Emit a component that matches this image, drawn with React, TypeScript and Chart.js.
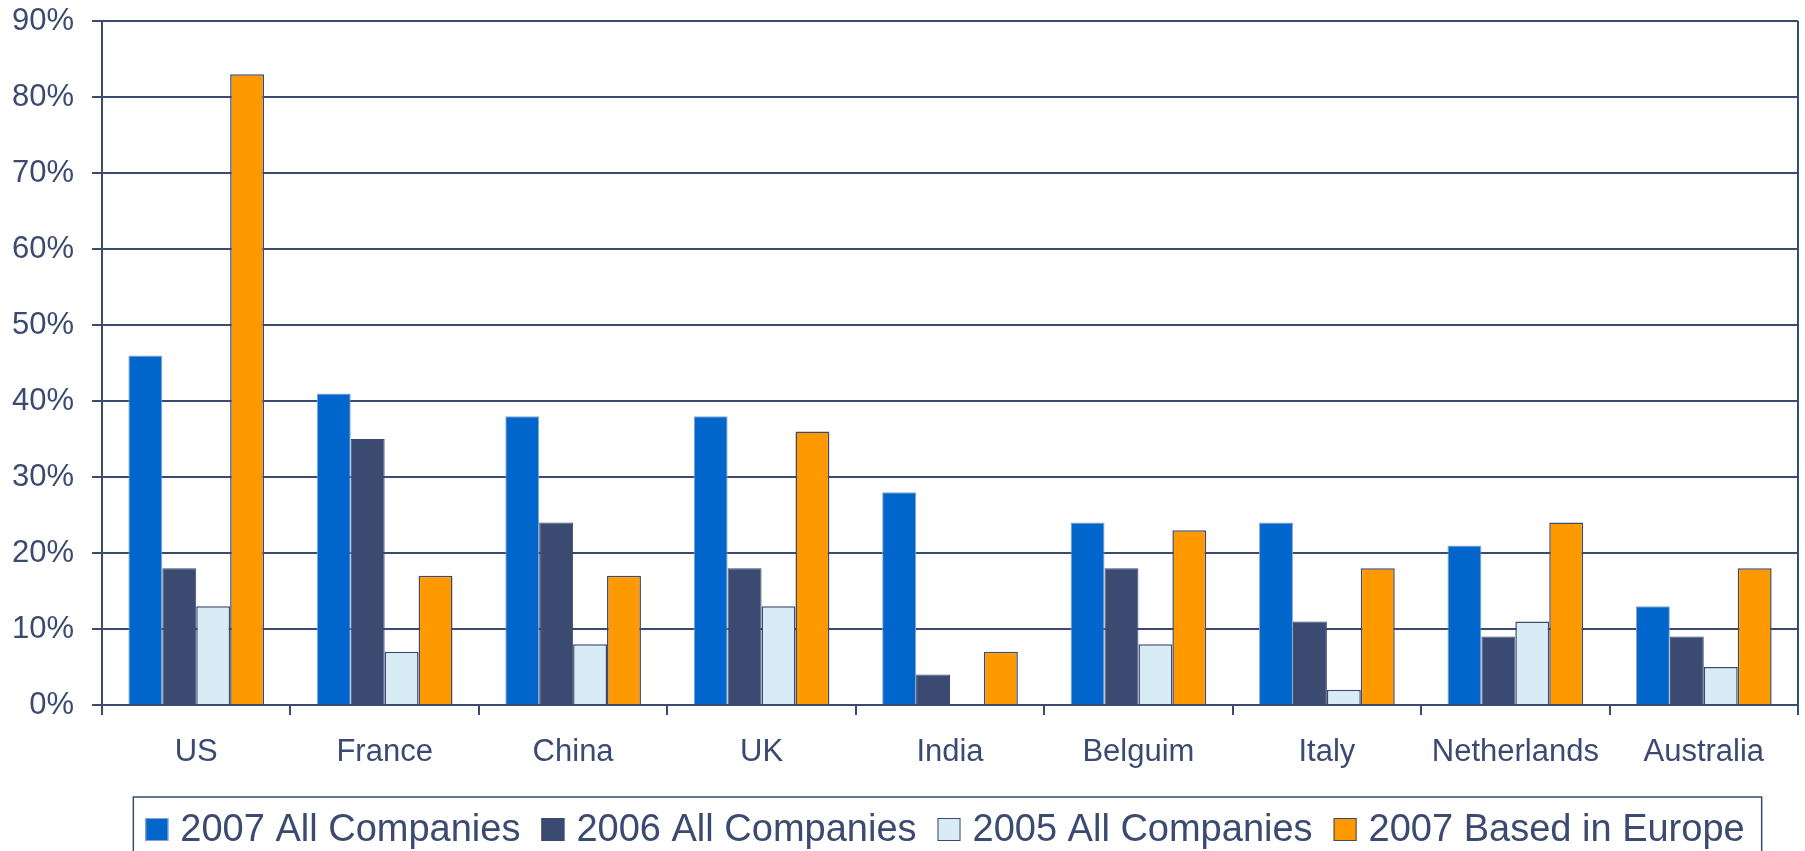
import React, { useEffect, useRef } from 'react';
import { Chart, registerables } from 'chart.js';

Chart.register(...registerables);

const categories = ['US', 'France', 'China', 'UK', 'India', 'Belguim', 'Italy', 'Netherlands', 'Australia'];
const seriesLabels = ['2007 All Companies', '2006 All Companies', '2005 All Companies', '2007 Based in Europe'];
const all2007 = [46, 41, 38, 38, 28, 24, 24, 21, 13];
const all2006 = [18, 35, 24, 18, 4, 18, 11, 9, 9];
const all2005 = [13, 7, 8, 13, 0, 8, 2, 11, 5];
const europe2007 = [83, 17, 17, 36, 7, 23, 18, 24, 18];
const yMin = 0;
const yMax = 90;
const yStep = 10;

const NAVY = '#3B4A70';
const FONT = '"Liberation Sans", Arial, sans-serif';
const fills = ['#0066CC', '#3B4A70', '#D7ECF5', '#FF9900'];
const borders = ['#8EA3C7', '#3B4A70', '#3B4A70', '#3B4A70'];
const borderWidths = [1, 1, 1.5, 1.5];

const legendBoxPlugin = {
  id: 'legendBox',
  afterDraw(chart: any) {
    const ctx = chart.ctx as CanvasRenderingContext2D;
    const ca = chart.chartArea;
    ctx.save();
    ctx.font = `38px ${FONT}`;
    const items = chart.data.datasets.map((ds: any) => ({
      label: ds.label,
      w: ctx.measureText(ds.label).width,
      bg: ds.backgroundColor,
      bc: ds.borderColor,
    }));
    const box = 23, gap = 12, itemGap = 21, padL = 12, padR = 17;
    const contentW = items.reduce((a: number, it: any) => a + box + gap + it.w, 0) + itemGap * (items.length - 1);
    const boxW = contentW + padL + padR;
    const cx = (ca.left + ca.right) / 2 - 2.5;
    const left = cx - boxW / 2;
    const top = ca.bottom + 92;
    ctx.strokeStyle = NAVY;
    ctx.lineWidth = 1.5;
    ctx.strokeRect(left, top, boxW, 80);
    let x = left + padL;
    const sqTop = top + 21;
    ctx.textBaseline = 'alphabetic';
    ctx.textAlign = 'left';
    for (const it of items) {
      ctx.fillStyle = it.bg;
      ctx.fillRect(x, sqTop, box, box);
      ctx.strokeStyle = it.bc;
      ctx.lineWidth = 1;
      ctx.strokeRect(x + 0.5, sqTop + 0.5, box - 1, box - 1);
      ctx.fillStyle = NAVY;
      ctx.fillText(it.label, x + box + gap, sqTop + box);
      x += box + gap + it.w + itemGap;
    }
    ctx.restore();
  },
};

export default function App() {
  const ref = useRef<HTMLCanvasElement | null>(null);
  useEffect(() => {
    document.body.style.margin = '0';
    const canvas = ref.current;
    if (!canvas) return;
    const series = [all2007, all2006, all2005, europe2007];
    const chart = new Chart(canvas, {
      type: 'bar',
      data: {
        labels: categories,
        datasets: series.map((d, i) => ({
          label: seriesLabels[i],
          data: d,
          backgroundColor: fills[i],
          borderColor: borders[i],
          borderWidth: borderWidths[i],
          categoryPercentage: 0.72,
          barPercentage: 1.0,
        })),
      },
      options: {
        responsive: false,
        animation: false,
        devicePixelRatio: 1,
        layout: { padding: { left: 12, right: 7, top: 21, bottom: 66 } },
        plugins: {
          legend: { display: false },
          tooltip: { enabled: false },
          title: { display: false },
        },
        scales: {
          x: {
            offset: true,
            grid: {
              display: true,
              drawOnChartArea: true,
              offset: true,
              color: (ctx: any) => (ctx.tick ? 'rgba(0,0,0,0)' : NAVY),
              tickColor: NAVY,
              tickLength: 10,
              lineWidth: 2,
            },
            border: { display: false },
            ticks: {
              color: NAVY,
              font: { size: 31, family: FONT },
              padding: 19,
              maxRotation: 0,
              autoSkip: false,
            },
            afterFit: (s: any) => { s.height = 80; },
          },
          y: {
            min: yMin,
            max: yMax,
            ticks: {
              stepSize: yStep,
              callback: (v: any) => `${v}%`,
              color: NAVY,
              font: { size: 31, family: FONT, lineHeight: 0.1 },
              padding: 18,
            },
            grid: { color: NAVY, lineWidth: 2, tickLength: 10, drawTicks: true, tickColor: NAVY },
            border: { display: true, color: NAVY, width: 2 },
            afterFit: (s: any) => { s.width = 90; },
          },
        },
      },
      plugins: [legendBoxPlugin],
    });
    return () => chart.destroy();
  }, []);
  return (
    <div style={{ width: 1805, height: 851, overflow: 'hidden' }}>
      <canvas ref={ref} width={1805} height={851} style={{ display: 'block', width: 1805, height: 851 }} />
    </div>
  );
}
